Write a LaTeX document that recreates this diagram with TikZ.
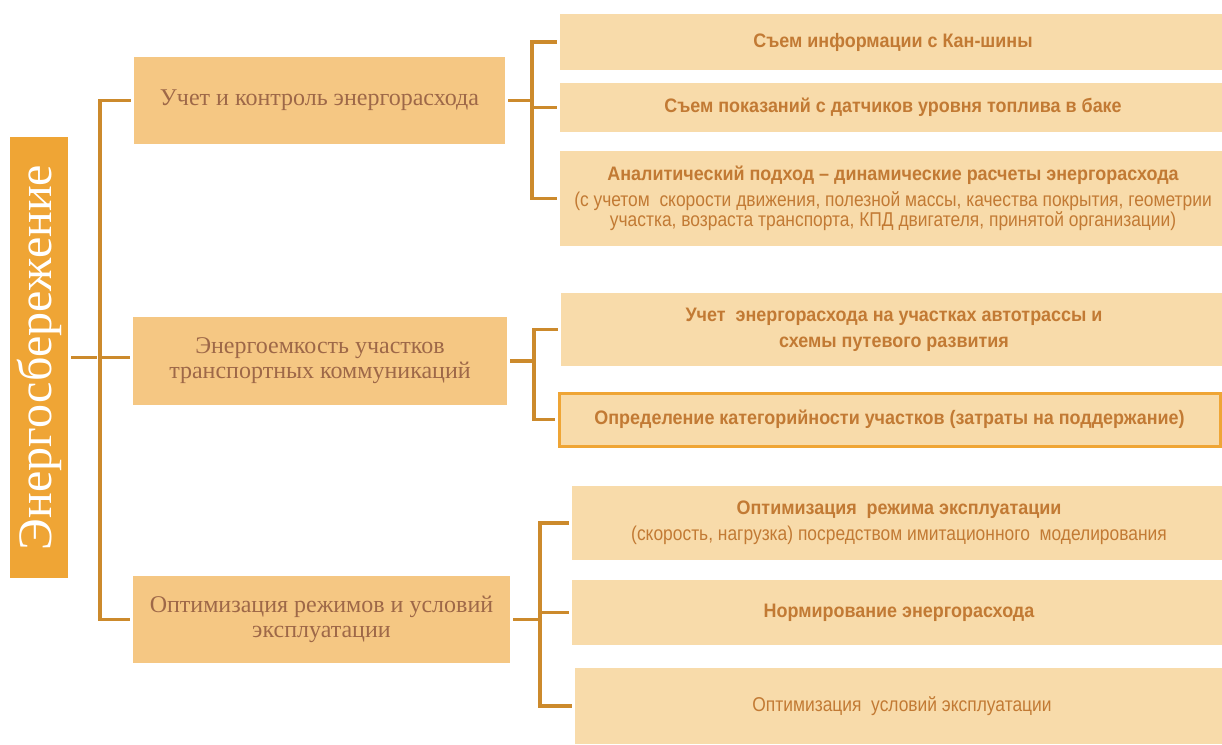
\documentclass[tikz,border=0pt]{standalone}
\usepackage{fontspec}
\setmainfont{Liberation Serif}
\newfontfamily\narrowsans[FakeStretch=0.92]{Liberation Sans}
\newfontfamily\narrowlight[FakeStretch=0.87]{Liberation Sans}
\usetikzlibrary{positioning}

\definecolor{rootfill}{RGB}{239,165,53}
\definecolor{lvonefill}{RGB}{245,199,131}
\definecolor{lvonetext}{RGB}{158,104,72}
\definecolor{lvtwofill}{RGB}{248,219,170}
\definecolor{lvtwotext}{RGB}{194,122,52}
\definecolor{conncolor}{RGB}{204,138,44}

\tikzset{
  rootbox/.style={fill=rootfill, text=white, inner sep=0pt, minimum width=58pt, minimum height=441pt,
    font=\fontsize{48}{50}\selectfont},
  lvone/.style={fill=lvonefill, text=lvonetext, align=center, inner sep=0pt,
    font=\fontsize{24}{25}\selectfont},
  lvtwo/.style={fill=lvtwofill, text=lvtwotext, align=center, inner sep=0pt,
    font=\narrowsans\bfseries\fontsize{19.5}{26}\selectfont},
  lvtwolight/.style={lvtwo, font=\narrowlight\fontsize{20}{20}\selectfont},
  conn/.style={draw=conncolor, line width=3.5pt, shorten <=3pt, shorten >=3pt},
}
\newcommand{\boldline}[1]{{\narrowsans\bfseries\fontsize{19.5}{20}\selectfont #1}}

\begin{document}
\begin{tikzpicture}[x=1pt,y=1pt,yscale=-1]
\useasboundingbox (0,0) rectangle (1222,744);
\clip (0,0) rectangle (1222,744);

% Root
\node[rootbox] (root) at (39,357.5) {\rotatebox{90}{Энергосбережение}};

% Level one
\node[lvone, minimum width=371pt, minimum height=87pt] (b1) at (319.5,100.5) {Учет и контроль энергорасхода};
\node[lvone, minimum width=374pt, minimum height=88pt] (b2) at (320,361) {Энергоемкость участков\\транспортных коммуникаций};
\node[lvone, minimum width=377pt, minimum height=87pt] (b3) at (321.5,619.5) {Оптимизация режимов и условий\\эксплуатации};

% Level two
\node[lvtwo, minimum width=666pt, minimum height=56pt] (c1) at (893,42) {Съем информации с Кан-шины};
\node[lvtwo, minimum width=666pt, minimum height=49pt] (c2) at (893,107.5) {Съем показаний с датчиков уровня топлива в баке};
\node[lvtwolight, minimum width=666pt, minimum height=95pt] (c3) at (893,198.5)
  {\boldline{Аналитический подход – динамические расчеты энергорасхода}\\[6pt]
   (с учетом\ \ скорости движения, полезной массы, качества покрытия,\ геометрии\\
   участка,\ возраста транспорта,\ КПД двигателя,\ принятой организации)};
\node[lvtwo, minimum width=666pt, minimum height=73pt] (c4) at (894,329.5) {Учет\ \ энергорасхода на участках автотрассы и\\схемы путевого развития};
\node[lvtwo, draw=rootfill, line width=3pt, minimum width=661pt, minimum height=53pt] (c5) at (889.5,419.5) {Определение категорийности участков (затраты на поддержание)};
\node[lvtwolight, minimum width=654pt, minimum height=74pt] (c6) at (899,523)
  {\boldline{Оптимизация\ \ режима эксплуатации}\\[6pt]
   (скорость, нагрузка) посредством имитационного\ \ моделирования};
\node[lvtwo, minimum width=654pt, minimum height=65pt] (c7) at (899,612.5) {Нормирование энергорасхода};
\node[lvtwolight, minimum width=654pt, minimum height=76pt] (c8) at (902,706) {Оптимизация\ \ условий эксплуатации};

% Spines
\coordinate (sp0) at (100,357.5);
\coordinate (sp1) at (532,100.5);
\coordinate (sp2) at (534,361);
\coordinate (sp3) at (540,619.5);

% Connectors
\draw[conn] (root.east) -- (sp0);
\draw[conn] (b1.west) -| (sp0) |- (b3.west);
\draw[conn, shorten <=0pt] (sp0) -- (sp0 -| b2.west);

\draw[conn, shorten >=0pt] (b1.east) -- (sp1);
\draw[conn] (c1.west) -| (sp1) |- (c3.west);
\draw[conn, shorten <=0pt] (sp1 |- c2.west) -- (c2.west);

\draw[conn, shorten >=0pt] (b2.east) -- (sp2);
\draw[conn] (c4.west) -| (sp2) |- (c5.west);

\draw[conn, shorten >=0pt] (b3.east) -- (sp3);
\draw[conn] (c6.west) -| (sp3) |- (c8.west);
\draw[conn, shorten <=0pt] (sp3 |- c7.west) -- (c7.west);

\end{tikzpicture}
\end{document}
